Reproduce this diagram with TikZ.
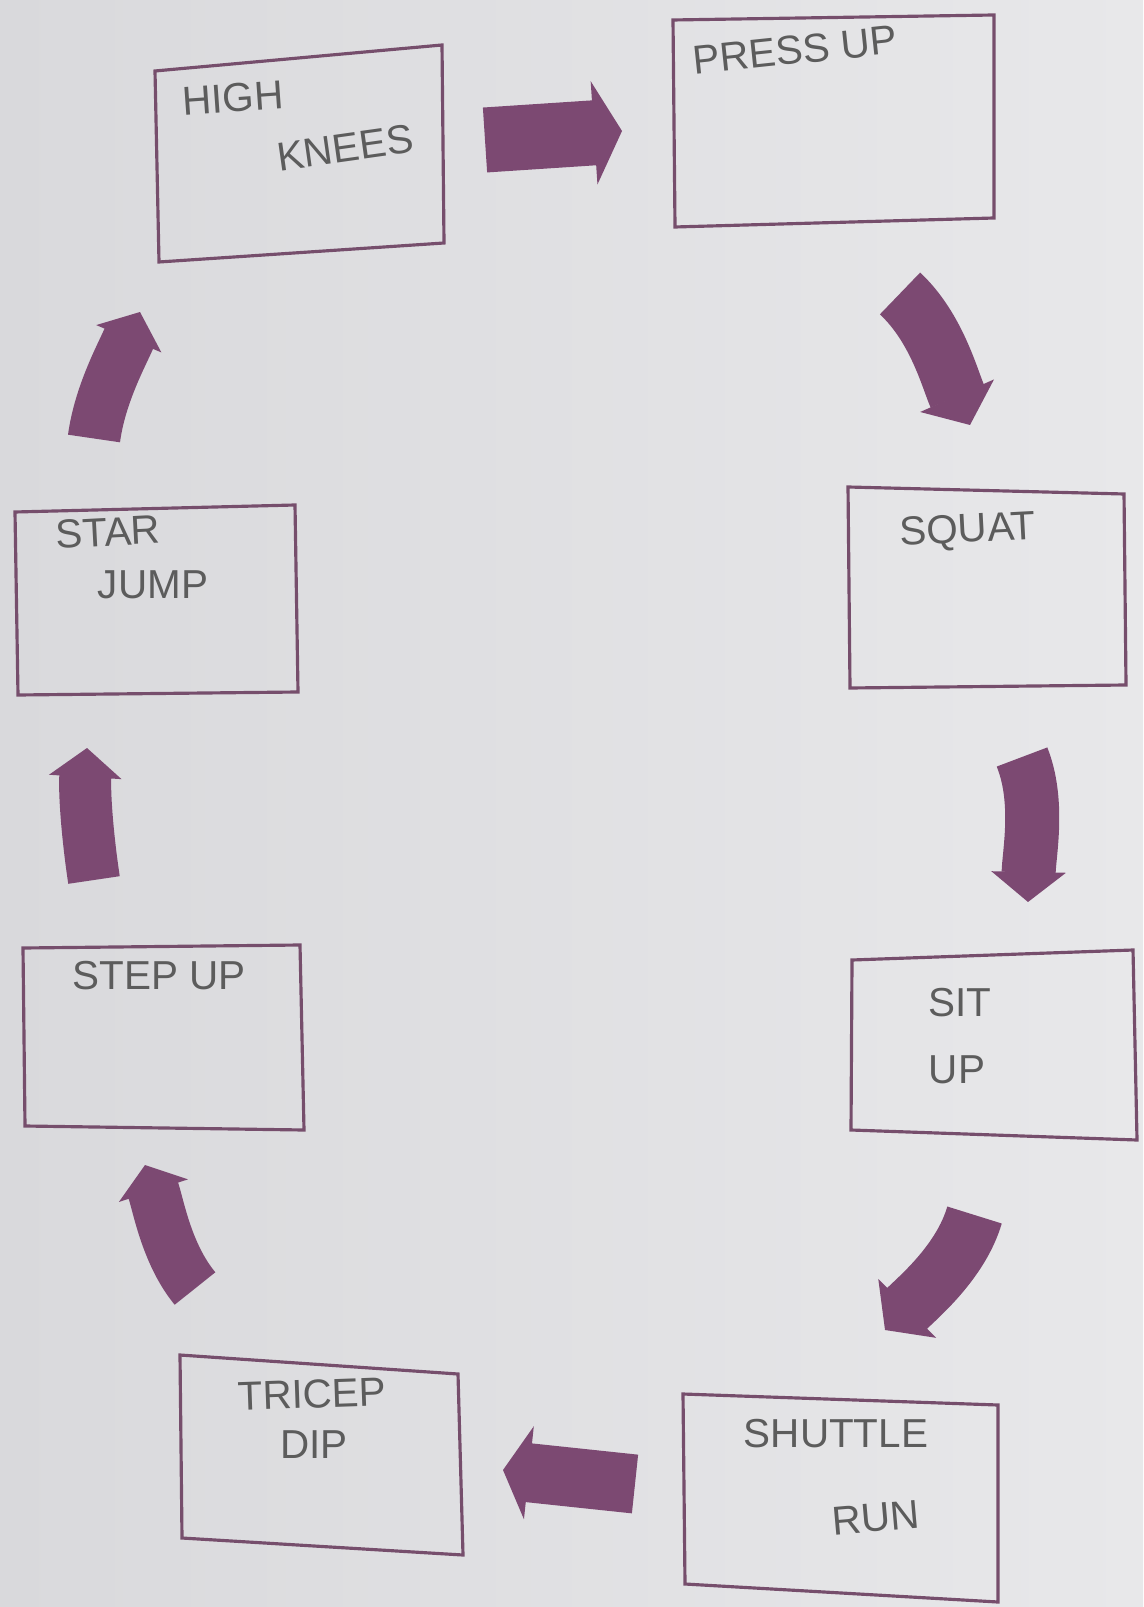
\documentclass[tikz,border=0pt]{standalone}
\usepackage{fontspec}
\setmainfont{Liberation Sans}
\usetikzlibrary{arrows.meta}
\definecolor{paper}{RGB}{232,232,234}
\definecolor{paperdark}{RGB}{217,217,220}
\definecolor{plum}{RGB}{124,73,114}
\definecolor{boxline}{RGB}{118,78,108}
\definecolor{pencil}{RGB}{92,92,92}
\tikzset{
  stationbox/.style={draw=boxline, line width=0.9pt, line join=miter},
  hand/.style={text=pencil, font=\fontsize{11.5}{13}\selectfont, inner sep=0pt},
  bigarrow/.style={draw=plum, line cap=butt},
}
\begin{document}
\begin{tikzpicture}[x=0.01cm,y=-0.01cm]
\useasboundingbox (0,0) rectangle (1143,1607);
\shade[left color=paperdark,right color=paper] (0,0) rectangle (1143,1607);

% ---- station boxes (corner coordinates) ----
\coordinate (hk1) at (155,71);  \coordinate (hk2) at (442,45);  \coordinate (hk3) at (444,243);  \coordinate (hk4) at (159,262);
\coordinate (pu1) at (673,20);  \coordinate (pu2) at (994,15);  \coordinate (pu3) at (994,218);  \coordinate (pu4) at (675,227);
\coordinate (sj1) at (15,512);  \coordinate (sj2) at (295,505); \coordinate (sj3) at (298,692);  \coordinate (sj4) at (18,695);
\coordinate (sq1) at (848,487); \coordinate (sq2) at (1124,494);\coordinate (sq3) at (1126,685); \coordinate (sq4) at (850,688);
\coordinate (su1) at (852,960); \coordinate (su2) at (1133,950);\coordinate (su3) at (1137,1140);\coordinate (su4) at (851,1130);
\coordinate (sr1) at (683,1394);\coordinate (sr2) at (998,1405);\coordinate (sr3) at (998,1602); \coordinate (sr4) at (685,1584);
\coordinate (td1) at (180,1355);\coordinate (td2) at (458,1374);\coordinate (td3) at (463,1555); \coordinate (td4) at (182,1538);
\coordinate (st1) at (23,948);  \coordinate (st2) at (300,945); \coordinate (st3) at (304,1130); \coordinate (st4) at (25,1126);

\foreach \b in {hk,pu,sj,sq,su,sr,td,st}{
  \draw[stationbox] (\b1) -- (\b2) -- (\b3) -- (\b4) -- cycle;
}

% ---- handwritten labels ----
\node[hand, rotate=4] (tHigh) at (233,98) {HIGH};
\node[hand, rotate=8] (tKnees) at (345,148) {KNEES};
\node[hand, rotate=6] (tPress) at (795,50) {PRESS UP};
\node[hand, rotate=3] (tStar) at (108,532) {STAR};
\node[hand] (tJump) at (153,585) {JUMP};
\node[hand, rotate=3] (tSquat) at (968,532) {SQUAT};
\node[hand] (tSit) at (960,1003) {SIT};
\node[hand] (tUp) at (957,1070) {UP};
\node[hand] (tStep) at (159,976) {STEP UP};
\node[hand, rotate=2] (tTricep) at (312,1394) {TRICEP};
\node[hand] (tDip) at (314,1445) {DIP};
\node[hand] (tShuttle) at (836,1434) {SHUTTLE};
\node[hand, rotate=5] (tRun) at (876,1518) {RUN};

% ---- block arrows ----
\coordinate (a1s) at (485,140);   \coordinate (a1e) at (622,131);
\coordinate (a2s) at (900,293.5); \coordinate (a2e) at (970,425);
\coordinate (a3s) at (1022,757);  \coordinate (a3e) at (1028,902);
\coordinate (a4s) at (974.5,1215);\coordinate (a4e) at (885,1330);
\coordinate (a5s) at (635,1484);  \coordinate (a5e) at (503,1470);
\coordinate (a6s) at (195,1288.5);\coordinate (a6e) at (145,1165);
\coordinate (a7s) at (94,880);    \coordinate (a7e) at (87,748);
\coordinate (a8s) at (94,438.5);  \coordinate (a8e) at (140,312);

\draw[bigarrow, line width=0.65cm, -{Triangle[width=1.03cm,length=0.28cm,line width=1pt]}] (a1s) -- (a1e);
\draw[bigarrow, line width=0.58cm, -{Triangle[width=0.80cm,length=0.32cm,line width=1pt]}]
  (a2s) .. controls (936.6,327.5) and (949.8,379.2) .. (a2e);
\draw[bigarrow, line width=0.54cm, -{Triangle[width=0.74cm,length=0.30cm,line width=1pt]}]
  (a3s) .. controls (1039.8,801.5) and (1029,854) .. (a3e);
\draw[bigarrow, line width=0.57cm, -{Triangle[width=0.82cm,length=0.31cm,line width=1pt]}]
  (a4s) .. controls (961.1,1261.1) and (919.3,1296.4) .. (a4e);
\draw[bigarrow, line width=0.59cm, -{Triangle[width=0.93cm,length=0.26cm,line width=1pt]}] (a5s) -- (a5e);
\draw[bigarrow, line width=0.52cm, -{Triangle[width=0.72cm,length=0.27cm,line width=1pt]}]
  (a6s) .. controls (167,1254.6) and (158.7,1206.8) .. (a6e);
\draw[bigarrow, line width=0.52cm, -{Triangle[width=0.72cm,length=0.29cm,line width=1pt]}]
  (a7s) .. controls (87.3,835.5) and (84.3,793) .. (a7e);
\draw[bigarrow, line width=0.525cm, -{Triangle[width=0.70cm,length=0.29cm,line width=1pt]}]
  (a8s) .. controls (100,393.9) and (122.6,353.5) .. (a8e);
\end{tikzpicture}
\end{document}
